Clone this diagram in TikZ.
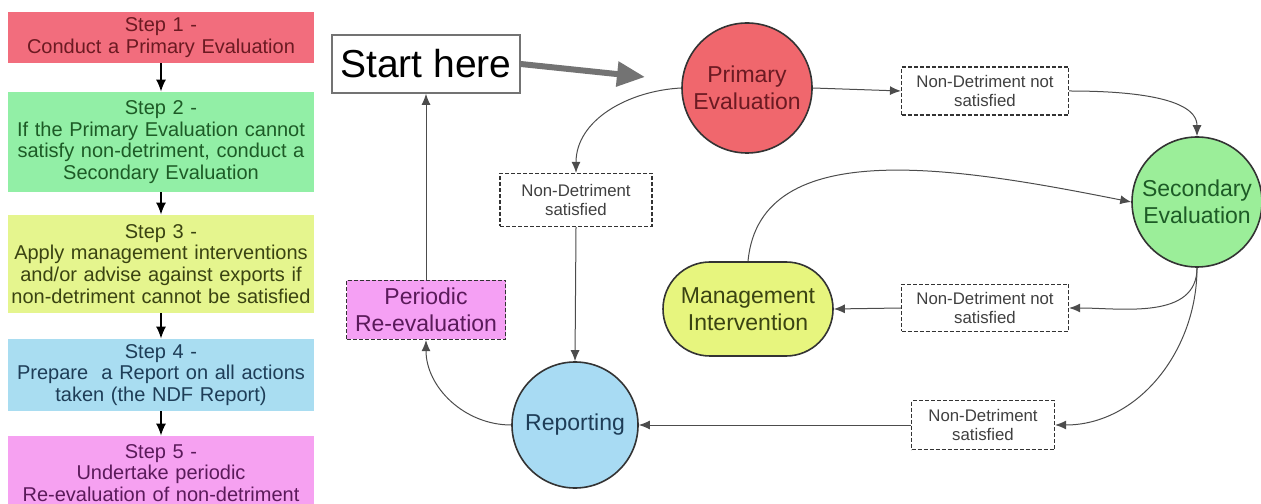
\documentclass[tikz,border=0pt]{standalone}
\usepackage{fontspec}
\setmainfont{Liberation Sans}
\usetikzlibrary{arrows.meta}

\definecolor{sred}{HTML}{F26D7D}
\definecolor{sgreen}{HTML}{92EFA6}
\definecolor{syellow}{HTML}{E5F58E}
\definecolor{sblue}{HTML}{A9DDF1}
\definecolor{spink}{HTML}{F6A1F1}
\definecolor{cred}{HTML}{F0676D}
\definecolor{cgreen}{HTML}{9BEE99}
\definecolor{cyellow}{HTML}{E7F57E}
\definecolor{cblue}{HTML}{A8DBF3}
\definecolor{cpink}{HTML}{F5A0F4}
\definecolor{tred}{HTML}{6B1A22}
\definecolor{tgreen}{HTML}{1D5B26}
\definecolor{tyellow}{HTML}{3A4312}
\definecolor{tblue}{HTML}{1E3D57}
\definecolor{tpink}{HTML}{5A1A5A}

\begin{document}
\begin{tikzpicture}[x=0.5pt, y=0.5pt,
  stepbox/.style={minimum width=153pt, text width=150pt, align=center, inner sep=1pt,
    font=\fontsize{10}{10.9}\selectfont},
  steparrow/.style={draw=black, line width=0.7pt, -{Latex[length=6pt,width=5pt]}},
  bubble/.style={circle, draw=black!80, line width=0.8pt, inner sep=0pt, align=center,
    font=\fontsize{11.5}{13.5}\selectfont},
  ndbox/.style={draw=black!80, dash pattern=on 2pt off 1pt, line width=0.6pt, fill=white,
    align=center, inner sep=1pt, text=black!75, font=\fontsize{8.4}{9.7}\selectfont},
  flow/.style={draw=black!70, line width=0.5pt, -{Latex[length=5.5pt,width=4.5pt]}}]
\useasboundingbox (0,0) rectangle (1261,503);
\clip (0,0) rectangle (1261,503);

\node[stepbox, fill=sred, text=tred, minimum height=25.5pt] (step1) at (161,465.5)
  {Step 1 -\\Conduct a Primary Evaluation};
\node[stepbox, fill=sgreen, text=tgreen, minimum height=50pt] (step2) at (161,361)
  {Step 2 -\\If the Primary Evaluation cannot\\satisfy non-detriment, conduct a\\Secondary Evaluation};
\node[stepbox, fill=syellow, text=tyellow, minimum height=49pt] (step3) at (161,239)
  {Step 3 -\\Apply management interventions\\and/or advise against exports if\\non-detriment cannot be satisfied};
\node[stepbox, fill=sblue, text=tblue, minimum height=36pt] (step4) at (161,128)
  {Step 4 -\\Prepare\ \ a Report on all actions\\taken (the NDF Report)};
\node[stepbox, fill=spink, text=tpink, minimum height=37pt] (step5) at (161,30)
  {Step 5 -\\Undertake periodic\\Re-evaluation of non-detriment};

\draw[steparrow] (step1) -- (step2);
\draw[steparrow] (step2) -- (step3);
\draw[steparrow] (step3) -- (step4);
\draw[steparrow] (step4) -- (step5);

\node[draw=black!55, line width=0.8pt, minimum width=94pt, minimum height=29pt, inner sep=1pt,
  font=\fontsize{19.5}{22}\selectfont] (start) at (426,439) {Start here};
\coordinate (startend) at (645,426);
\node[bubble, fill=cred, text=tred, minimum size=65pt] (prim) at (747,415) {Primary\\Evaluation};
\node[bubble, fill=cgreen, text=tgreen, minimum size=65pt] (sec) at (1197,301) {Secondary\\Evaluation};
\node[draw=black!80, line width=0.8pt, rounded corners=23.5pt, fill=cyellow, text=tyellow,
  minimum width=85pt, minimum height=47pt, align=center,
  font=\fontsize{11.5}{13.5}\selectfont] (mgmt) at (748,194) {Management\\Intervention};
\node[bubble, fill=cblue, text=tblue, minimum size=63pt] (rep) at (575,78) {Reporting};
\node[ndbox, fill=cpink, text=tpink, minimum width=79.5pt, minimum height=29.5pt,
  font=\fontsize{11.5}{13.5}\selectfont] (peri) at (426,193) {Periodic\\Re-evaluation};

\node[ndbox, minimum width=83.5pt, minimum height=24pt] (nd1) at (985,412) {Non-Detriment not\\satisfied};
\node[ndbox, minimum width=83.5pt, minimum height=23.5pt] (nd2) at (985,195) {Non-Detriment not\\satisfied};
\node[ndbox, minimum width=71.5pt, minimum height=24.5pt] (nd3) at (983,78) {Non-Detriment\\satisfied};
\node[ndbox, minimum width=76pt, minimum height=26.5pt] (nd4) at (576,303) {Non-Detriment\\satisfied};

\draw[draw=black!55, line width=3pt, -{Triangle[length=14pt,width=12pt]}] (start.east) -- (startend);
\draw[flow] (prim.east) -- (nd1.west);
\draw[flow] (nd1.east) to[out=0, in=90, looseness=0.8] (sec.north);
\draw[flow] (prim.west) to[out=183, in=90] (nd4.north);
\draw[flow] (nd4.south) -- (rep.north);
\draw[flow] (mgmt.north) .. controls (760,370) and (960,335) .. (sec.west);
\draw[flow] (sec.south) to[out=-90, in=0] (nd2.east);
\draw[flow] (nd2.west) -- (mgmt.east);
\draw[flow] (sec.south) to[out=-90, in=0] (nd3.east);
\draw[flow] (nd3.west) -- (rep.east);
\draw[flow] (rep.west) to[out=180, in=-90] (peri.south);
\draw[flow] (peri.north) -- (start.south);
\end{tikzpicture}
\end{document}
